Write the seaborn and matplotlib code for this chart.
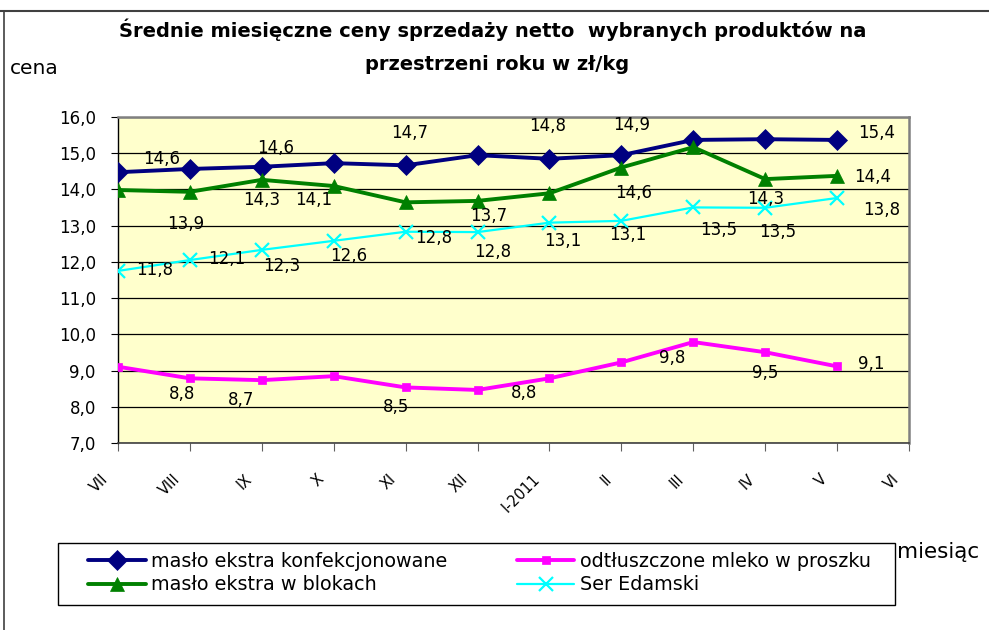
import numpy as np
import pandas as pd
import matplotlib
matplotlib.use("Agg")
import matplotlib.pyplot as plt
import matplotlib.transforms as mtransforms
from matplotlib.lines import Line2D
from matplotlib.patches import Rectangle
import seaborn as sns

sns.set_style("white")
plt.rcParams['font.family'] = ['DejaVu Sans']
plt.rcParams['text.color'] = 'black'
plt.rcParams['xtick.color'] = 'black'
plt.rcParams['ytick.color'] = 'black'

# months on the x axis (12 ticks, data for the first 11)
months = ["VII", "VIII", "IX", "X", "XI", "XII", "I-2011", "II", "III", "IV", "V", "VI"]

# prices in zl/kg
maslo_konf = [14.47, 14.56, 14.62, 14.72, 14.66, 14.94, 14.84, 14.94, 15.36, 15.38, 15.36]
maslo_blok = [13.98, 13.93, 14.26, 14.09, 13.64, 13.68, 13.89, 14.60, 15.16, 14.28, 14.37]
mleko = [9.11, 8.79, 8.74, 8.85, 8.54, 8.47, 8.79, 9.23, 9.79, 9.51, 9.12]
edamski = [11.75, 12.05, 12.33, 12.58, 12.83, 12.82, 13.08, 13.13, 13.50, 13.49, 13.76]

names = ["masło ekstra konfekcjonowane", "masło ekstra w blokach",
         "odtłuszczone mleko w proszku", "Ser Edamski"]

# which points carry a value label, and where the label sits (pixel offset)
labels_konf = [(1, -28, -10), (2, 14, -19), (4, 4, -32), (6, -2, -33), (7, 10, -30), (10, 40, -7)]
labels_blok = [(1, -4, 32), (2, 0, 20), (3, -20, 14), (5, 11, 15), (7, 12, 25), (9, 1, 20), (10, 36, 1)]
labels_mleko = [(1, -8, 16), (2, -21, 20), (4, -10, 20), (6, -25, 15), (8, -21, 16), (9, 0, 21), (10, 34, -2)]
labels_edam = [(0, 37, -1), (1, 37, -1), (2, 20, 16), (3, 15, 15), (4, 28, 6), (5, 15, 20),
               (6, 13, 18), (7, 6, 14), (8, 25, 23), (9, 13, 24), (10, 45, 12)]

fig = plt.figure(figsize=(9.89, 6.3), dpi=100)
ax = fig.add_axes([118/989, 1-443.3/630, (909-118)/989, (443.3-116.7)/630])
ax.set_facecolor("#FFFFCC")

xs = np.arange(len(maslo_konf))
styles = [
    (maslo_konf, "#000080", "D", 10, 2.8, labels_konf),
    (maslo_blok, "#008000", "^", 10, 2.8, labels_blok),
    (mleko, "#FF00FF", "s", 6, 2.8, labels_mleko),
    (edamski, "#00FFFF", "x", 10, 1.6, labels_edam),
]
for (vals, col, mk, ms, lw, lab), name in zip(styles, names):
    df = pd.DataFrame({"x": xs, "y": vals})
    sns.lineplot(data=df, x="x", y="y", ax=ax, color=col, marker=mk, markersize=ms,
                 linewidth=lw, markeredgecolor=col, markerfacecolor=col,
                 markeredgewidth=1.6 if mk == "x" else 0.5, label=name, zorder=3)
    for i, dx, dy in lab:
        ax.annotate(f"{vals[i]:.1f}".replace(".", ","), (xs[i], vals[i]),
                    xytext=(dx, -dy), textcoords="offset pixels",
                    ha="center", va="center", fontsize=12, color="black", zorder=4)

ax.set_xlim(0, 11)
ax.set_ylim(7, 16)
ax.set_yticks(np.arange(7, 16.1, 1))
ax.set_yticklabels([f"{v:.1f}".replace(".", ",") for v in np.arange(7, 16.1, 1)], fontsize=12)
ax.set_xticks(np.arange(12))
ax.set_xticklabels(months, rotation=45, ha="right", fontsize=10.5)
ax.tick_params(axis="x", length=6, color="#606060", pad=14, direction="out", bottom=True)
ax.tick_params(axis="y", length=5, color="black", pad=11, direction="out", left=True)
shift = mtransforms.ScaledTranslation(-7/100, 0, fig.dpi_scale_trans)
for t in ax.get_xticklabels():
    t.set_transform(t.get_transform() + shift)
ax.grid(axis="y", color="black", linewidth=0.9)
ax.set_axisbelow(True)
ax.set_xlabel("")
ax.set_ylabel("")
for s in ["top", "right"]:
    ax.spines[s].set_color("#808080")
    ax.spines[s].set_linewidth(1.8)
ax.spines["left"].set_color("black")
ax.spines["bottom"].set_color("#404040")
ax.spines["left"].set_linewidth(1)
ax.spines["bottom"].set_linewidth(1.2)

handles, labs = ax.get_legend_handles_labels()
ax.get_legend().remove()
fig.legend(handles, labs, loc="upper left", ncol=2, mode="expand",
           bbox_to_anchor=(88/989, 1-600/630, 783/989, 48/630), borderaxespad=0,
           fontsize=13.8, frameon=False, handlelength=3.0, handletextpad=0.3,
           labelspacing=0.22, borderpad=0)
# legend box
fig.add_artist(Rectangle((58/989, 1-605/630), 837/989, 62/630, transform=fig.transFigure,
                         fill=False, edgecolor="black", lw=1))

fig.text(493/989, 1-30/630, "Średnie miesięczne ceny sprzedaży netto  wybranych produktów na",
         ha="center", va="center", fontsize=14, fontweight="bold")
fig.text(497/989, 1-64/630, "przestrzeni roku w zł/kg",
         ha="center", va="center", fontsize=14, fontweight="bold")
fig.text(10/989, 1-68/630, "cena", ha="left", va="center", fontsize=14.5)
fig.text(897/989, 1-552/630, "miesiąc", ha="left", va="center", fontsize=15.5)

# outer frame of the chart area (top and left edges)
fig.add_artist(Line2D([0, 1], [1-11/630, 1-11/630], transform=fig.transFigure, color="#404040", lw=1.5))
fig.add_artist(Line2D([4/989, 4/989], [0, 1-11/630], transform=fig.transFigure, color="#404040", lw=1.2))

fig.savefig("out.png", dpi=100)
